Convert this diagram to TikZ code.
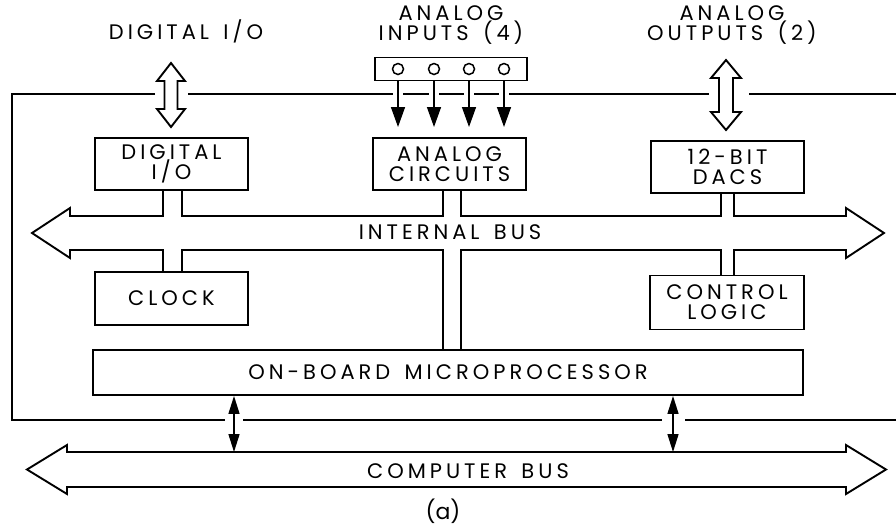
\documentclass[tikz,border=0pt]{standalone}
\usepackage{fontspec}
\newfontfamily\lettering[LetterSpace=19,WordSpace=1.5]{Poppins}
\newfontfamily\plainlettering{Poppins}
\usetikzlibrary{arrows.meta}
\newcommand\bigdbl[5]{% center x, top y, bottom y, head half width, shaft half width
  \draw[ln,fill=white] (#1,#2) -- (#1+#4,#2+18) -- (#1+#5,#2+18) -- (#1+#5,#3-18) -- (#1+#4,#3-18)
    -- (#1,#3) -- (#1-#4,#3-18) -- (#1-#5,#3-18) -- (#1-#5,#2+18) -- (#1-#4,#2+18) -- cycle;}
\begin{document}
\begin{tikzpicture}[x=1pt,y=-1pt,
  ln/.style={line width=1.9pt, line join=miter},
  board/.style={line width=1.6pt},
  blk/.style={draw, line width=1.9pt, inner sep=0pt, align=center,
    font=\lettering\fontsize{21}{20}\selectfont},
  lbl/.style={inner sep=0pt, align=center, font=\lettering\fontsize{21}{20}\selectfont},
  pin/.style={circle, draw, line width=1.5pt, minimum size=11pt, inner sep=0pt},
  sig/.style={line width=1.5pt, -{Triangle[length=20pt,width=14pt]}},
  link/.style={line width=1.5pt, {Triangle[length=18pt,width=11pt]}-{Triangle[length=18pt,width=11pt]}}
]
\useasboundingbox (0,0) rectangle (896,531);

% board outline
\draw[board] (155,94) -- (12,94) -- (12,420) -- (225,420);
\draw[board] (243,420) -- (662,420);
\draw[board] (685,420) -- (896,420);
\draw[board] (188,94) -- (393,94);
\draw[board] (403,94) -- (429,94);
\draw[board] (439,94) -- (464,94);
\draw[board] (474,94) -- (499,94);
\draw[board] (509,94) -- (709,94);
\draw[board] (749,94) -- (896,94);

% top labels
\node[lbl] (tdio) at (186,31) {DIGITAL I/O};
\node[lbl] (tain) at (451,25) {ANALOG\\INPUTS (4)};
\node[lbl] (taout) at (732,25) {ANALOG\\OUTPUTS (2)};

% big double arrows
\bigdbl{171}{63}{127}{14}{6.5}
\bigdbl{726}{60}{130}{15}{7}

% analog input connector
\node[draw, line width=1.9pt, minimum width=152pt, minimum height=23pt, inner sep=0pt] (ain) at (451,69) {};
\node[pin] (p1) at (398,69) {};
\node[pin] (p2) at (434,69) {};
\node[pin] (p3) at (469,69) {};
\node[pin] (p4) at (504,69) {};
\coordinate (tip) at (451,127);
\foreach \p in {p1,p2,p3,p4}
  \draw[sig] (\p |- ain.south) -- (\p |- tip);

% blocks
\node[blk, minimum width=153pt, minimum height=52pt] (dio) at (171.5,164) {DIGITAL\\I/O};
\node[blk, minimum width=153pt, minimum height=52pt] (anc) at (449.5,164) {ANALOG\\CIRCUITS};
\node[blk, minimum width=153pt, minimum height=52pt] (dac) at (727.5,167) {12-BIT\\DACS};
\node[blk, minimum width=153pt, minimum height=53pt] (clk) at (171.5,298.5) {CLOCK};
\node[blk, minimum width=154pt, minimum height=54pt] (ctl) at (727,302.5) {CONTROL\\LOGIC};
\node[blk, minimum width=710pt, minimum height=45pt] (mpu) at (448,372.5) {ON-BOARD MICROPROCESSOR};

% internal bus with stems
\draw[ln] (163,190) -- (163,216) -- (70,216) -- (70,208) -- (32,233) -- (70,258) -- (70,250) -- (163,250) -- (163,272);
\draw[ln] (182,190) -- (182,216) -- (443,216) -- (443,190);
\draw[ln] (461,190) -- (461,216) -- (721,216) -- (721,193);
\draw[ln] (734,193) -- (734,216) -- (846,216) -- (846,208) -- (884,233) -- (846,258) -- (846,250) -- (734,250) -- (734,275.5);
\draw[ln] (721,275.5) -- (721,250) -- (461,250) -- (461,350);
\draw[ln] (443,350) -- (443,250) -- (182,250) -- (182,272);
\node[lbl] (ibus) at (450,232) {INTERNAL BUS};

% computer bus
\draw[ln] (67,452) -- (846,452) -- (846,445) -- (886,469.5) -- (846,494) -- (846,487)
  -- (67,487) -- (67,494) -- (27,469.5) -- (67,445) -- cycle;
\node[lbl] (cbus) at (468,471) {COMPUTER BUS};
\coordinate (s1) at (234,452);
\coordinate (s2) at (673,452);
\draw[link] (s1 |- mpu.south) -- (s1);
\draw[link] (s2 |- mpu.south) -- (s2);

\node[inner sep=0pt, font=\plainlettering\fontsize{22}{22}\selectfont] (cap) at (443,511) {(a)};
\end{tikzpicture}
\end{document}
